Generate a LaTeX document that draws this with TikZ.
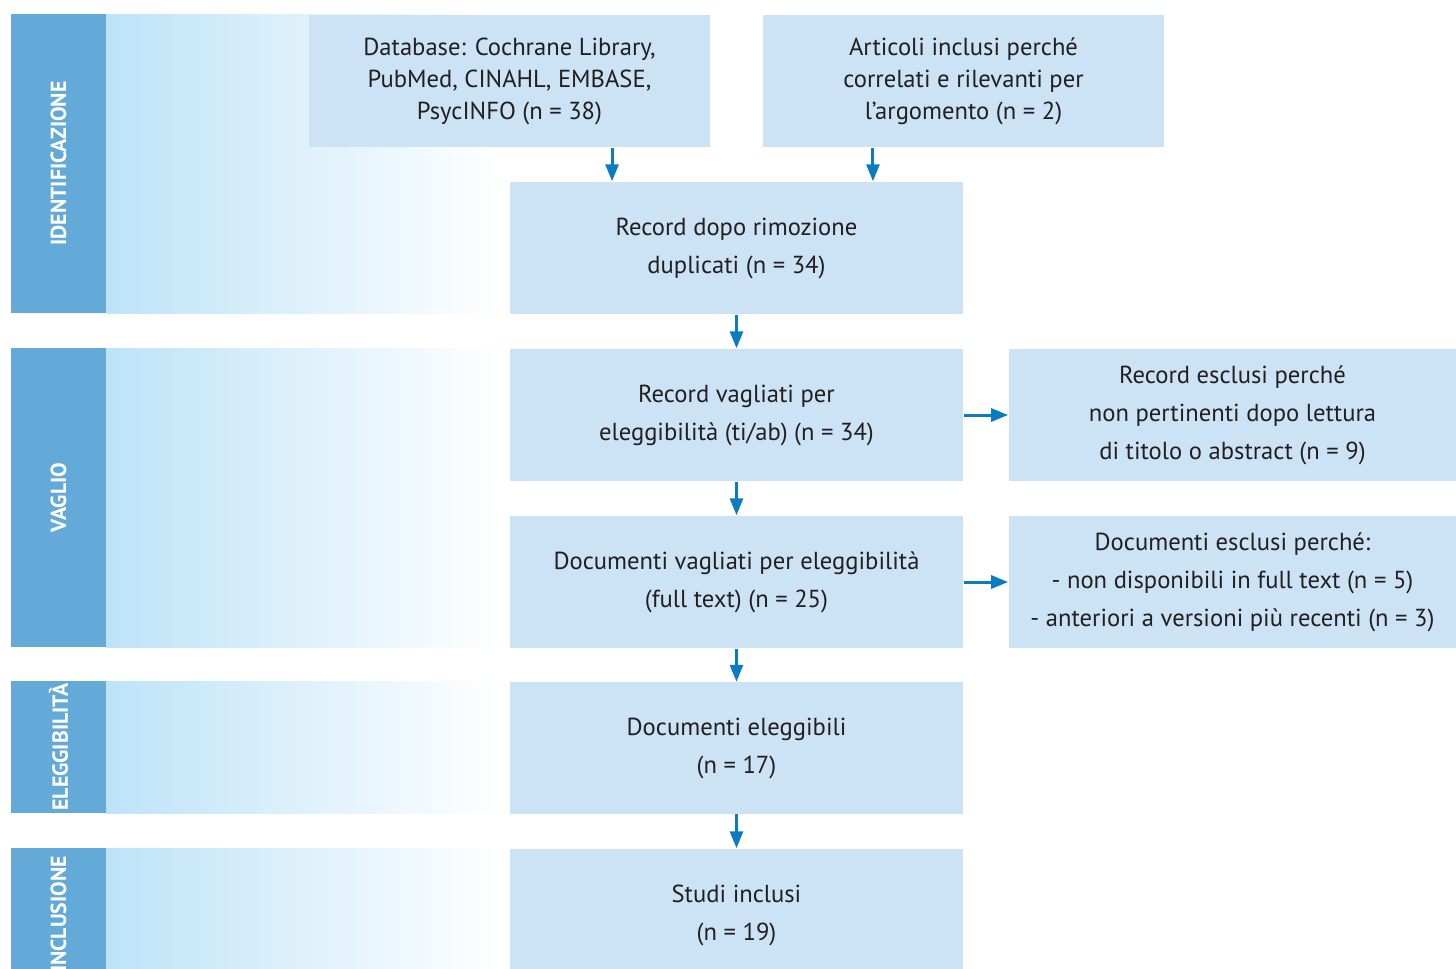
\documentclass[tikz,border=0pt]{standalone}
\usepackage{fontspec}
\setmainfont{PT Sans}
\usepackage{tikz}
\usepackage{xcolor}
\usetikzlibrary{arrows.meta,calc,positioning,shapes}
\definecolor{stageblue}{HTML}{63AAD9}
\definecolor{bandblue}{HTML}{BDE3F8}
\definecolor{boxblue}{HTML}{CCE3F6}
\definecolor{arrowblue}{HTML}{0A7DC2}
\definecolor{textgray}{HTML}{231F20}
\tikzset{%
  arrow/.style={line width=0.03cm,color=arrowblue,-{Triangle[length=0.17cm,width=0.13cm]}},
  box/.style={rectangle,fill=boxblue,text=textgray,align=center,inner sep=0pt,font=\fontsize{7}{9.1}\selectfont},
  tallbox/.style={box,font=\fontsize{7}{10.8}\selectfont},
  stage/.style={rectangle,fill=stageblue,rotate=90,text=white,minimum height=0.95cm,inner sep=0pt,font=\bfseries\fontsize{6.2}{6.5}\selectfont},
  band/.style={left color=bandblue,right color=white},
}

\begin{document}
\begin{tikzpicture}[x=0.01cm,y=-0.01cm]
      \useasboundingbox (0,0) rectangle (1456,969);
      \clip (0,0) rectangle (1456,969);

      % fasi a sinistra
      \shade[band] (106,14) rectangle (500,313);
      \shade[band] (106,348) rectangle (500,647);
      \shade[band] (106,681) rectangle (500,813);
      \shade[band] (106,848) rectangle (500,980);

      \node[stage,minimum width=2.99cm] (stage_id) at (58.5,163.5) {IDENTIFICAZIONE};
      \node[stage,minimum width=2.99cm] (stage_vaglio) at (58.5,497.5) {VAGLIO};
      \node[stage,minimum width=1.32cm] (stage_elegg) at (58.5,747) {ELEGGIBILITÀ};
      \node[stage,minimum width=1.32cm] (stage_incl) at (58.5,914) {INCLUSIONE};

      % riquadri
      \node[box,minimum width=4.01cm,minimum height=1.32cm] (node_database) at (509.5,81) {Database: Cochrane Library,\\PubMed, CINAHL, EMBASE,\\PsycINFO (n = 38)};
      \node[box,minimum width=4.01cm,minimum height=1.32cm] (node_articoli) at (963.5,81) {Articoli inclusi perché\\correlati e rilevanti per\\l’argomento (n = 2)};

      \node[tallbox,minimum width=4.53cm,minimum height=1.32cm] (node_record) at (736.5,248) {Record dopo rimozione\\duplicati (n = 34)};
      \node[tallbox,minimum width=4.53cm,minimum height=1.32cm] (node_vagliati) at (736.5,415) {Record vagliati per\\eleggibilità (ti/ab) (n = 34)};
      \node[tallbox,minimum width=4.47cm,minimum height=1.32cm] (node_esclusi) at (1232.5,415) {Record esclusi perché\\non pertinenti dopo lettura\\di titolo o abstract (n = 9)};
      \node[tallbox,minimum width=4.53cm,minimum height=1.32cm] (node_documenti) at (736.5,582) {Documenti vagliati per eleggibilità\\(full text) (n = 25)};
      \node[tallbox,minimum width=4.47cm,minimum height=1.32cm] (node_docesclusi) at (1232.5,582) {Documenti esclusi perché:\\- non disponibili in full text (n = 5)\\- anteriori a versioni più recenti (n = 3)};
      \node[tallbox,minimum width=4.53cm,minimum height=1.31cm] (node_eleggibili) at (736.5,748) {Documenti eleggibili\\(n = 17)};
      \node[tallbox,minimum width=4.53cm,minimum height=1.32cm] (node_inclusi) at (736.5,915) {Studi inclusi\\(n = 19)};

      % frecce
      \draw[arrow] ([xshift=1.025cm]node_database.south) -- ([xshift=1.025cm]node_database.south |- node_record.north);
      \draw[arrow] ([xshift=-0.905cm]node_articoli.south) -- ([xshift=-0.905cm]node_articoli.south |- node_record.north);
      \draw[arrow] (node_record) -- (node_vagliati);
      \draw[arrow] (node_vagliati) -- (node_documenti);
      \draw[arrow] (node_documenti) -- (node_eleggibili);
      \draw[arrow] (node_eleggibili) -- (node_inclusi);
      \draw[arrow] (node_vagliati) -- (node_esclusi);
      \draw[arrow] (node_documenti) -- (node_docesclusi);
    \end{tikzpicture}
\end{document}
